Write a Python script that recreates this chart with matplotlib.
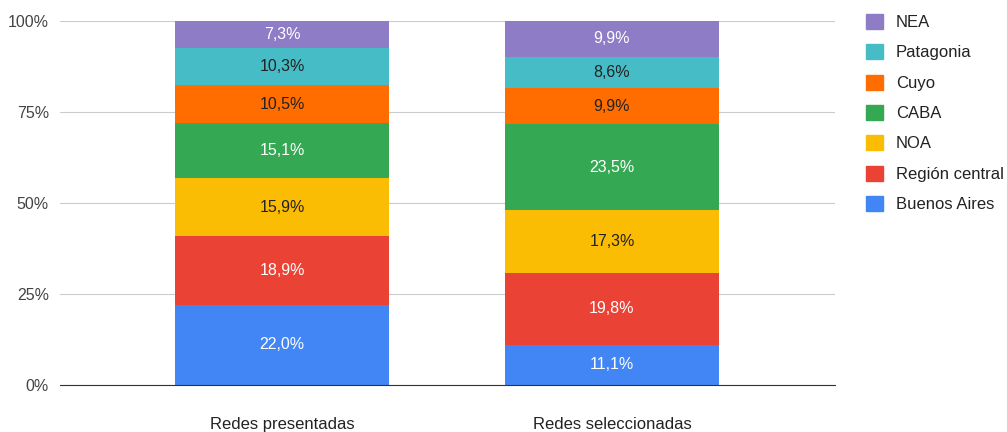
import numpy as np
import matplotlib
matplotlib.use("Agg")
import matplotlib.pyplot as plt
from matplotlib.patches import Patch

categorias = ["Redes presentadas", "Redes seleccionadas"]
regiones = ["Buenos Aires", "Región central", "NOA", "CABA", "Cuyo", "Patagonia", "NEA"]
valores = {
    "Buenos Aires": [22.0, 11.1],
    "Región central": [18.9, 19.8],
    "NOA": [15.9, 17.3],
    "CABA": [15.1, 23.5],
    "Cuyo": [10.5, 9.9],
    "Patagonia": [10.3, 8.6],
    "NEA": [7.3, 9.9],
}
colores = ["#4285F4", "#EA4335", "#FBBC04", "#34A853", "#FF6D01", "#46BDC6", "#8E7CC6"]
color_texto = ["white", "white", "#222222", "white", "#222222", "#222222", "white"]

plt.rcParams['font.family'] = ['Liberation Sans', 'DejaVu Sans']

fig = plt.figure(figsize=(10.07, 4.32), dpi=100)
ax = fig.add_axes([60 / 1007, 1 - 385 / 432, 775 / 1007, 364 / 432])

x = np.arange(len(categorias))
tot = np.zeros(len(categorias))
for reg, c, tc in zip(regiones, colores, color_texto):
    v = np.array(valores[reg])
    pct = v / np.array([sum(valores[r][i] for r in regiones) for i in range(len(categorias))]) * 100
    ax.bar(x, pct, 0.648, bottom=tot, color=c, zorder=3)
    for xi, b, p, val in zip(x, tot, pct, v):
        ax.text(xi, b + p / 2, f"{val:.1f}%".replace(".", ","), ha="center", va="center",
                color=tc, fontsize=11.5, zorder=4)
    tot += pct

ax.set_xlim(-0.673, 1.676)
ax.set_ylim(0, 100)
ax.set_yticks([0, 25, 50, 75, 100])
ax.set_yticklabels(["0%", "25%", "50%", "75%", "100%"], color="#444444", fontsize=11.5)
ax.set_xticks(x)
ax.set_xticklabels(categorias, color="#222222", fontsize=12)
ax.tick_params(axis="x", length=0, pad=23)
ax.tick_params(axis="y", length=0, pad=8)
ax.grid(axis="y", color="#cccccc", linewidth=0.8, zorder=0)
for s in ["top", "right", "left"]:
    ax.spines[s].set_visible(False)
ax.spines["bottom"].set_color("#333333")
ax.spines["bottom"].set_zorder(5)

handles = [Patch(color=c, label=r) for r, c in zip(regiones, colores)][::-1]
fig.legend(handles=handles, loc="upper left", bbox_to_anchor=(851 / 1007, 1 + 1 / 432),
           frameon=False, fontsize=12, handlelength=1.0, handleheight=1.0,
           labelspacing=0.85, handletextpad=0.8, labelcolor="#222222")

fig.savefig("out.png", dpi=100)
